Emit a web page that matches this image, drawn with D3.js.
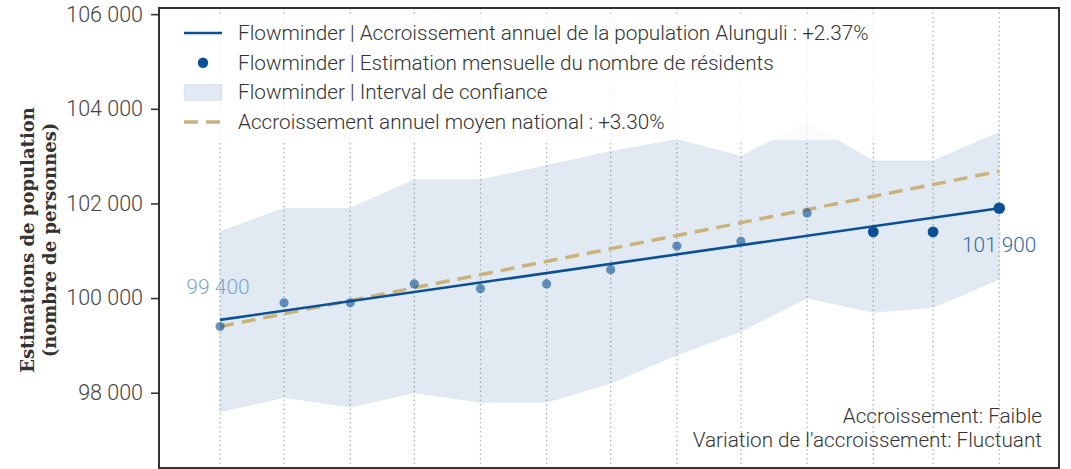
<!DOCTYPE html>
<meta charset="utf-8">
<style>
  body { margin: 0; background: #fff; }
  text { font-family: Roboto, "Noto Sans", sans-serif; }
</style>
<svg width="1071" height="469"></svg>
<script src="https://d3js.org/d3.v7.min.js"></script>
<script>
// monthly dates (first of each month)
var months = ["2021-04-01","2021-05-01","2021-06-01","2021-07-01","2021-08-01","2021-09-01",
  "2021-10-01","2021-11-01","2021-12-01","2022-01-01","2022-02-01","2022-03-01","2022-04-01"];
var estimates = [99400, 99900, 99900, 100300, 100200, 100300, 100600, 101100, 101200, 101800, 101400, 101400, 101900];
var ciLower = [97600, 97900, 97700, 98000, 97800, 97800, 98200, 98800, 99300, 100000, 99700, 99800, 100400];
var ciUpper = [101400, 101900, 101900, 102500, 102500, 102800, 103100, 103350, 103000, 103700, 102900, 102900, 103500];
var trendEnds = [99540, 101900];      // Flowminder annual growth +2.37%
var nationalEnds = [99400, 102680];   // national average +3.30%
var yTicks = [98000, 100000, 102000, 104000, 106000];

var legendLabels = [
  "Flowminder | Accroissement annuel de la population Alunguli : +2.37%",
  "Flowminder | Estimation mensuelle du nombre de résidents",
  "Flowminder | Interval de confiance",
  "Accroissement annuel moyen national : +3.30%"
];
var notes = ["Accroissement: Faible", "Variation de l'accroissement: Fluctuant"];

var blue = "#0b4f94", tan = "#c9b27c";
var parse = d3.utcParse("%Y-%m-%d");
var dates = months.map(parse);
var dayMs = 864e5;

var svg = d3.select("svg");
var m = {left: 159, right: 1059, top: 8, bottom: 468};

var x = d3.scaleUtc()
    .domain([new Date(+dates[0] - 28.6 * dayMs), new Date(+dates[dates.length - 1] + 28 * dayMs)])
    .range([m.left, m.right]);
var y = d3.scaleLinear().domain([96410, 106130]).range([m.bottom, m.top]);

var fmt = function(v) { return d3.format(",")(v).replace(/,/g, " "); };

// grid
svg.append("g").selectAll("line").data(dates).join("line")
    .attr("x1", d => x(d)).attr("x2", d => x(d))
    .attr("y1", m.top).attr("y2", m.bottom)
    .attr("stroke", "#b5b5b5").attr("stroke-width", 1.3).attr("stroke-dasharray", "1.5,3");

// confidence band
var band = d3.area()
    .x((d, i) => x(dates[i]))
    .y0((d, i) => y(ciLower[i]))
    .y1((d, i) => y(ciUpper[i]));
svg.append("path").datum(estimates).attr("d", band)
    .attr("fill", blue).attr("fill-opacity", 0.12)
    .attr("stroke", blue).attr("stroke-opacity", 0.06);

// national average dashed
var d0 = dates[0], d1 = dates[dates.length - 1];
svg.append("line")
    .attr("x1", x(d0)).attr("y1", y(nationalEnds[0]))
    .attr("x2", x(d1)).attr("y2", y(nationalEnds[1]))
    .attr("stroke", tan).attr("stroke-width", 3.5).attr("stroke-dasharray", "14,8");

// trend line
svg.append("line")
    .attr("x1", x(d0)).attr("y1", y(trendEnds[0]))
    .attr("x2", x(d1)).attr("y2", y(trendEnds[1]))
    .attr("stroke", blue).attr("stroke-width", 2.6);

// points: last three are the recent months
var n = estimates.length;
svg.append("g").selectAll("circle").data(estimates).join("circle")
    .attr("cx", (d, i) => x(dates[i]))
    .attr("cy", d => y(d))
    .attr("r", (d, i) => i === n - 1 ? 5.8 : (i >= n - 3 ? 5.4 : 4.6))
    .attr("fill", blue)
    .attr("fill-opacity", (d, i) => i >= n - 3 ? 1 : 0.6);

// value labels first / last
svg.append("text").attr("x", x(d0) - 2).attr("y", y(estimates[0]) - 32)
    .attr("text-anchor", "middle").attr("font-size", 21).attr("font-weight", 300).attr("fill", "#7ba3cc")
    .text(fmt(estimates[0]));
svg.append("text").attr("x", x(d1)).attr("y", y(estimates[n - 1]) + 44)
    .attr("text-anchor", "middle").attr("font-size", 20.8).attr("font-weight", 300).attr("fill", "#2f6aa5")
    .text(fmt(estimates[n - 1]));

// legend
var lg = svg.append("g");
lg.append("rect").attr("x", 172).attr("y", 14).attr("width", 708).attr("height", 126)
    .attr("fill", "#fff").attr("fill-opacity", 0.8);
var ly = function(i) { return 33 + i * 29.7; };
lg.append("line").attr("x1", 184).attr("x2", 222).attr("y1", ly(0)).attr("y2", ly(0))
    .attr("stroke", blue).attr("stroke-width", 2.6);
lg.append("circle").attr("cx", 203).attr("cy", ly(1)).attr("r", 5.2).attr("fill", blue);
lg.append("rect").attr("x", 184).attr("y", ly(2) - 8).attr("width", 38).attr("height", 16)
    .attr("fill", blue).attr("fill-opacity", 0.12).attr("stroke", blue).attr("stroke-opacity", 0.08);
lg.append("line").attr("x1", 184).attr("x2", 222).attr("y1", ly(3)).attr("y2", ly(3))
    .attr("stroke", tan).attr("stroke-width", 3.5).attr("stroke-dasharray", "14,8");
lg.selectAll("text.lab").data(legendLabels).join("text")
    .attr("class", "lab")
    .attr("x", 238).attr("y", (d, i) => ly(i) + 7)
    .attr("font-size", 20.7).attr("font-weight", 300).attr("fill", "#333")
    .text(d => d);

// notes bottom right
svg.selectAll("text.note").data(notes).join("text")
    .attr("class", "note")
    .attr("x", 1042).attr("y", (d, i) => 423 + i * 24)
    .attr("text-anchor", "end").attr("font-size", 20.7).attr("font-weight", 300).attr("fill", "#333")
    .text(d => d);

// frame
svg.append("rect").attr("x", m.left).attr("y", m.top)
    .attr("width", m.right - m.left).attr("height", m.bottom - m.top)
    .attr("fill", "none").attr("stroke", "#333").attr("stroke-width", 2);

// y axis
var yAxis = svg.append("g").attr("transform", "translate(" + m.left + ",0)")
    .call(d3.axisLeft(y).tickValues(yTicks).tickFormat(fmt).tickSize(8).tickPadding(8));
yAxis.select(".domain").remove();
yAxis.selectAll("line").attr("stroke", "#333").attr("stroke-width", 1.6);
yAxis.selectAll("text").attr("font-size", 21.5).attr("font-weight", 300).attr("fill", "#444")
    .attr("font-family", "Roboto, sans-serif");

// y label
var yl = svg.append("text")
    .attr("transform", "translate(34,240) rotate(-90)")
    .attr("text-anchor", "middle")
    .attr("font-size", 18).attr("font-weight", "bold").attr("fill", "#333")
    .style("font-family", "'DejaVu Serif', serif");
yl.append("tspan").attr("x", 0).attr("y", 0).text("Estimations de population");
yl.append("tspan").attr("x", 0).attr("y", 22).text("(nombre de personnes)");
</script>
